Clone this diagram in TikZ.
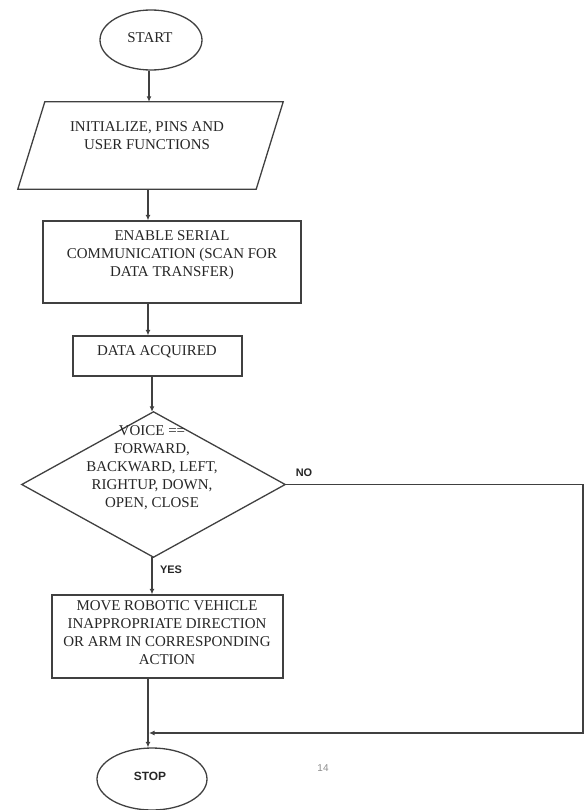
\documentclass[tikz,border=0pt]{standalone}
\usepackage{fontspec}
\setmainfont{Liberation Serif}
\newfontfamily\lsans{Liberation Sans}
\usetikzlibrary{shapes.geometric,arrows.meta,calc}
\begin{document}
\begin{tikzpicture}[x=1bp,y=-1bp,
  line/.style={draw=black!75,line width=1.3bp},
  arr/.style={line,-{Latex[length=5.5bp,width=5bp]}},
  txt/.style={align=center,text=black!85,font=\fontsize{15}{18}\selectfont,inner sep=0pt},
  lbl/.style={text=black!85,font=\lsans\bfseries\fontsize{11}{13}\selectfont,inner sep=0pt},
  term/.style={line,ellipse,inner sep=0pt},
  boxx/.style={line,rectangle,inner sep=0pt},
  frame/.style={rectangle,inner sep=0pt},
  dia/.style={line,diamond,inner sep=0pt}]
\useasboundingbox (0,0) rectangle (585,810);
% shapes
\node[term,minimum width=102bp,minimum height=60bp] (start) at (151,40) {};
\node[txt] (startT) at (150,38) {START};
\node[frame,minimum width=265bp,minimum height=87bp] (init) at (150.5,145.5) {};
\draw[line] (init.south west) -- ($(init.north west)+(27,0)$) -- (init.north east) -- ($(init.south east)+(-27,0)$) -- cycle;
\node[txt] (initT) at (147,136) {INITIALIZE, PINS AND\\USER FUNCTIONS};
\node[boxx,minimum width=258bp,minimum height=82bp] (enable) at (172,262) {};
\node[txt] (enableT) at (172,255) {ENABLE SERIAL\\COMMUNICATION (SCAN FOR\\DATA TRANSFER)};
\node[boxx,minimum width=169bp,minimum height=40bp] (data) at (157.5,356) {};
\node[txt] (dataT) at (157,352) {DATA ACQUIRED};
\node[frame,minimum width=263bp,minimum height=145bp] (dec) at (153.5,484.5) {};
\draw[line] (dec.north) -- (dec.east) -- (dec.south) -- (dec.west) -- cycle;
\node[txt] (decT) at (152,468) {VOICE ==\\FORWARD,\\BACKWARD, LEFT,\\RIGHTUP, DOWN,\\OPEN, CLOSE};
\node[boxx,minimum width=231bp,minimum height=83bp] (move) at (167.5,636.5) {};
\node[txt] (moveT) at (167,633) {MOVE ROBOTIC VEHICLE\\INAPPROPRIATE DIRECTION\\OR ARM IN CORRESPONDING\\ACTION};
\node[term,minimum width=110bp,minimum height=62bp] (stop) at (152,779) {};
\node[lbl,font=\lsans\bfseries\fontsize{12}{14}\selectfont] (stopT) at (150,776) {STOP};
% labels
\node[lbl] (no) at (304,473) {NO};
\node[lbl] (yes) at (171,570) {YES};
\node[text=black!45,font=\lsans\fontsize{10}{12}\selectfont,inner sep=0pt] (page) at (323,768) {14};
% helper coordinates
\coordinate (s1) at (149,0);
\coordinate (s2) at (148,0);
\coordinate (s3) at (152,0);
\coordinate (rx) at (583,0);
\coordinate (join) at (149,733);
% connectors
\draw[arr] (start.south -| s1) -- (init.north -| s1);
\draw[arr] (init.south -| s2) -- (enable.north -| s2);
\draw[arr] (enable.south -| s2) -- (data.north -| s2);
\draw[arr] (data.south -| s3) -- (dec.north -| s3);
\draw[arr] (dec.south -| s3) -- (move.north -| s3);
\draw[arr] (move.south -| s2) -- (stop.north -| s2);
\draw[arr] (dec.east) -- (dec.east -| rx) -- (rx |- join) -- (join);
\end{tikzpicture}
\end{document}
